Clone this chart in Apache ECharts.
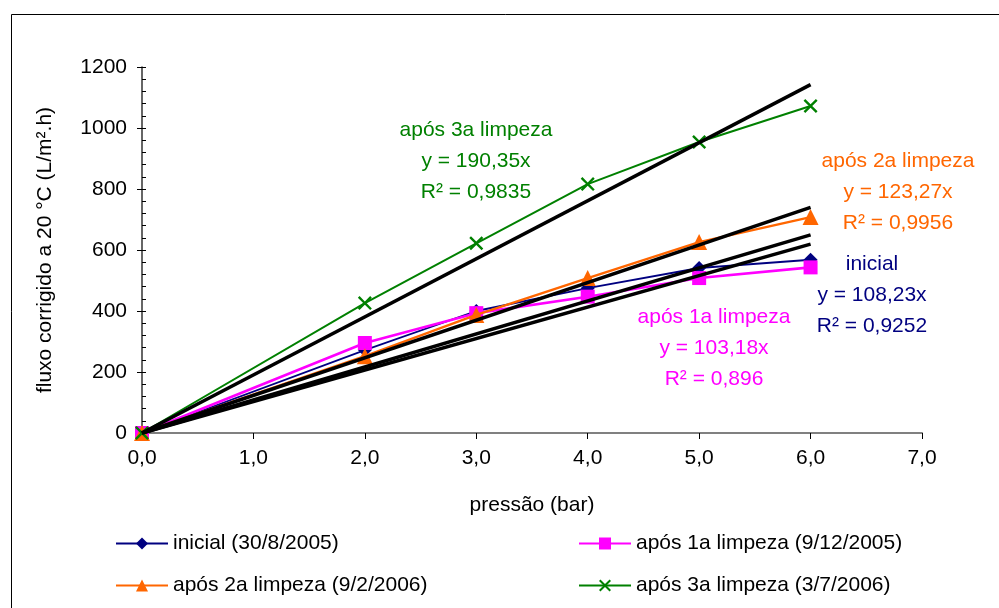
<!DOCTYPE html>
<html>
<head>
<meta charset="utf-8">
<title>Fluxo corrigido vs pressão</title>
<script src="https://cdn.jsdelivr.net/npm/echarts@6/dist/echarts.min.js"></script>
<style>
  html, body { margin: 0; padding: 0; background: #ffffff; }
  #chart { width: 999px; height: 608px; }
</style>
</head>
<body>
<div id="chart"></div>
<script>
// Pressure values (bar) at which the flux was measured
const pressures = [0, 2, 3, 4, 5, 6];

// Corrected flux at 20 °C (L/m².h) for each membrane state
const fluxInicial = [0, 272, 400, 475, 541, 568];
const fluxLimpeza1 = [0, 295, 393, 447, 508, 543];
const fluxLimpeza2 = [0, 252, 387, 508, 626, 708];
const fluxLimpeza3 = [0, 426, 622, 816, 954, 1072];

// Series names shown in the legend
const seriesNames = [
  'inicial (30/8/2005)',
  'após 1a limpeza (9/12/2005)',
  'após 2a limpeza (9/2/2006)',
  'após 3a limpeza (3/7/2006)'
];

// Linear trendlines through the origin (y = a·x) and their R²
const slopes = [108.23, 103.18, 123.27, 190.35];
const rSquared = ['0,9252', '0,896', '0,9956', '0,9835'];
const trendNames = ['inicial', 'após 1a limpeza', 'após 2a limpeza', 'após 3a limpeza'];
const trendEndX = 6;

// Axis tick values
const yTicks = [0, 200, 400, 600, 800, 1000, 1200];
const xTicks = [0, 1, 2, 3, 4, 5, 6, 7];

const colors = ['#000080', '#ff00ff', '#ff6600', '#008000'];
const FONT = '"Liberation Sans", Arial, sans-serif';
const xCross = 'path://M0,1.2 L1.2,0 L5,3.8 L8.8,0 L10,1.2 L6.2,5 L10,8.8 L8.8,10 L5,6.2 L1.2,10 L0,8.8 L3.8,5 Z';
const symbols = ['diamond', 'rect', 'triangle', xCross];
const symbolSizes = [14, 14, 16, 14];
const lineWidths = [1.8, 2.6, 2.4, 2];
const fluxSets = [fluxInicial, fluxLimpeza1, fluxLimpeza2, fluxLimpeza3];

const fmt = v => v.toFixed(1).replace('.', ',');
const fmtSlope = v => v.toFixed(2).replace('.', ',');

const dataSeries = fluxSets.map((vals, i) => ({
  name: seriesNames[i],
  type: 'line',
  data: pressures.map((p, k) => [p, vals[k]]),
  symbol: symbols[i],
  symbolSize: symbolSizes[i],
  showAllSymbol: true,
  color: colors[i],
  lineStyle: { color: colors[i], width: lineWidths[i] },
  itemStyle: { color: colors[i] },
  z: 2 + i,
  silent: true,
  animation: false
}));

const trendSeries = slopes.map((a, i) => ({
  name: 'trend-' + i,
  type: 'line',
  data: [[0, 0], [trendEndX, a * trendEndX]],
  showSymbol: false,
  symbol: 'none',
  lineStyle: { color: '#000000', width: 3.5 },
  z: 10,
  silent: true,
  animation: false
}));

// Trendline annotation blocks: [centre x, top line y]
const notePos = [[872, 264], [714, 317], [898, 161], [476, 130]];
const lineStep = 31;
const notes = [];
slopes.forEach((a, i) => {
  const lines = [trendNames[i], 'y = ' + fmtSlope(a) + 'x', 'R² = ' + rSquared[i]];
  lines.forEach((t, j) => {
    notes.push({
      type: 'text',
      x: notePos[i][0],
      y: notePos[i][1] + j * lineStep,
      z: 100,
      style: {
        text: t,
        fill: colors[i],
        font: '21px ' + FONT,
        textAlign: 'center',
        textVerticalAlign: 'middle',
        align: 'center',
        verticalAlign: 'middle'
      }
    });
  });
});

// Legend placement: two columns, two rows
const legendPos = [[115, 533], [578, 533], [115, 575], [578, 575]];
const legends = seriesNames.map((n, i) => ({
  data: [n],
  left: legendPos[i][0],
  top: legendPos[i][1],
  padding: 0,
  itemWidth: 52,
  itemHeight: 15,
  textStyle: { fontSize: 21, color: '#000', fontFamily: FONT },
  selectedMode: false
}));

const chart = echarts.init(document.getElementById('chart'), null, { renderer: 'canvas' });
chart.setOption({
  backgroundColor: '#ffffff',
  animation: false,
  textStyle: { fontFamily: FONT },
  grid: { left: 142, right: 77, top: 67, bottom: 175, containLabel: false },
  legend: legends,
  xAxis: {
    type: 'value',
    min: xTicks[0],
    max: xTicks[xTicks.length - 1],
    interval: 1,
    name: 'pressão (bar)',
    nameLocation: 'middle',
    nameGap: 62,
    nameTextStyle: { fontSize: 21, color: '#000', fontFamily: FONT },
    axisLine: { show: true, onZero: false, lineStyle: { color: '#808080', width: 2 } },
    axisTick: { show: true, inside: false, length: 6, lineStyle: { color: '#000', width: 1 } },
    axisLabel: { fontSize: 21, color: '#000', margin: 15, formatter: v => fmt(v), fontFamily: FONT },
    splitLine: { show: false }
  },
  yAxis: [
    {
      type: 'value',
      min: yTicks[0],
      max: yTicks[yTicks.length - 1],
      interval: 200,
      name: 'fluxo corrigido a 20 °C (L/m².h)',
      nameLocation: 'middle',
      nameGap: 86,
      nameRotate: 90,
      nameTextStyle: { fontSize: 21, color: '#000', fontFamily: FONT },
      axisLine: { show: true, lineStyle: { color: '#333', width: 1.5 } },
      axisTick: { show: true, inside: false, length: 5, lineStyle: { color: '#000', width: 1 } },
      axisLabel: { fontSize: 21, color: '#000', margin: 15, fontFamily: FONT, formatter: v => String(v) },
      splitLine: { show: false }
    },
    {
      type: 'value',
      position: 'left',
      min: yTicks[0],
      max: yTicks[yTicks.length - 1],
      interval: 200,
      axisLine: { show: false },
      axisTick: { show: true, inside: true, length: 4, lineStyle: { color: '#000', width: 1 } },
      minorTick: { show: true, splitNumber: 5, length: 4, lineStyle: { color: '#000', width: 1 } },
      axisLabel: { show: false },
      splitLine: { show: false }
    }
  ],
  series: dataSeries.concat(trendSeries),
  graphic: [
    {
      type: 'rect',
      shape: { x: 11.5, y: 14.5, width: 1200, height: 800 },
      style: { fill: null, stroke: '#000', lineWidth: 1 },
      silent: true,
      z: -1
    }
  ].concat(notes)
});
</script>
</body>
</html>
